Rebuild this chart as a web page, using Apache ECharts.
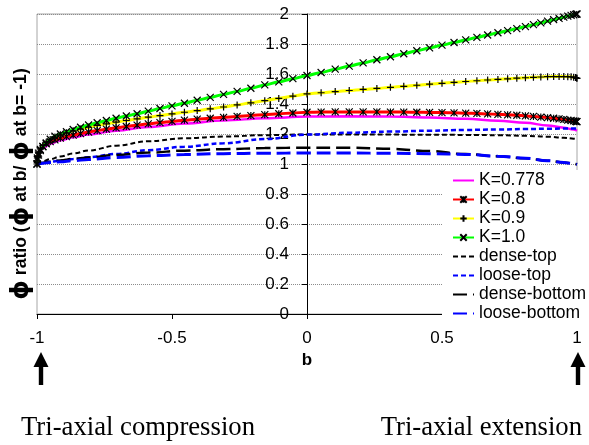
<!DOCTYPE html>
<html>
<head>
<meta charset="utf-8">
<script src="https://cdn.jsdelivr.net/npm/echarts/dist/echarts.min.js"></script>
<style>
  html, body { margin: 0; padding: 0; background: #fff; }
  #chart { width: 589px; height: 445px; }
</style>
</head>
<body>
<div id="chart"></div>
<script>
// b positions of the marked points (dense near both ends)
const bFine = [-1, -0.9986, -0.9945, -0.9877, -0.9781, -0.9659, -0.9511, -0.9336, -0.9135, -0.891,
  -0.866, -0.8387, -0.809, -0.7771, -0.7431, -0.7071, -0.6691, -0.6293, -0.5878, -0.5446,
  -0.5, -0.454, -0.4067, -0.3584, -0.309, -0.2588, -0.2079, -0.1564, -0.1045, -0.0523,
  0, 0.0523, 0.1045, 0.1564, 0.2079, 0.2588, 0.309, 0.3584, 0.4067, 0.454,
  0.5, 0.5446, 0.5878, 0.6293, 0.6691, 0.7071, 0.7431, 0.7771, 0.809, 0.8387,
  0.866, 0.891, 0.9135, 0.9336, 0.9511, 0.9659, 0.9781, 0.9877, 0.9945, 0.9986, 1];

// b positions for the unmarked curves
const bCoarse = [-1, -0.9945, -0.9781, -0.9511, -0.9135, -0.866, -0.809, -0.7071, -0.5878, -0.454,
  -0.309, -0.1564, 0, 0.1564, 0.309, 0.454, 0.5878, 0.7071, 0.809, 0.891, 0.9511, 0.9877, 1];

const k08 = [1.0, 1.04, 1.072, 1.098, 1.118, 1.135, 1.149, 1.161, 1.172, 1.183,
  1.193, 1.203, 1.213, 1.223, 1.232, 1.241, 1.25, 1.259, 1.268, 1.276,
  1.284, 1.292, 1.299, 1.305, 1.311, 1.317, 1.323, 1.329, 1.335, 1.34,
  1.345,
  1.346, 1.347, 1.347, 1.347, 1.347, 1.346, 1.346, 1.345, 1.344, 1.343,
  1.341, 1.339, 1.337, 1.334, 1.331, 1.328, 1.325, 1.321, 1.317, 1.313,
  1.309, 1.305, 1.301, 1.297, 1.293, 1.29, 1.287, 1.285, 1.283, 1.282];

const k09 = [1.0, 1.04, 1.072, 1.1, 1.124, 1.145, 1.164, 1.18, 1.195, 1.208,
  1.221, 1.233, 1.245, 1.257, 1.268, 1.279, 1.29, 1.301, 1.312, 1.323,
  1.334, 1.345, 1.356, 1.368, 1.38, 1.394, 1.408, 1.422, 1.437, 1.452,
  1.467,
  1.475, 1.483, 1.49, 1.497, 1.504, 1.511, 1.518, 1.525, 1.532, 1.538,
  1.544, 1.55, 1.555, 1.56, 1.564, 1.568, 1.572, 1.575, 1.578, 1.58,
  1.582, 1.583, 1.583, 1.583, 1.582, 1.581, 1.579, 1.576, 1.573, 1.571];

const k10 = [1.0, 1.03, 1.06, 1.09, 1.115, 1.14, 1.165, 1.185, 1.2, 1.215,
  1.23, 1.245, 1.26, 1.275, 1.29, 1.305, 1.32, 1.335, 1.352, 1.37,
  1.388, 1.405, 1.425, 1.444, 1.464, 1.484, 1.505, 1.527, 1.548, 1.569,
  1.59,
  1.61, 1.632, 1.653, 1.674, 1.695, 1.715, 1.735, 1.755, 1.774, 1.792,
  1.81, 1.827, 1.844, 1.86, 1.875, 1.889, 1.903, 1.916, 1.929, 1.941,
  1.952, 1.962, 1.971, 1.979, 1.986, 1.991, 1.995, 1.998, 1.999, 2.0];

const k0778 = [1.0, 1.065, 1.105, 1.135, 1.158, 1.178, 1.196, 1.222, 1.247, 1.27,
  1.29, 1.305, 1.316, 1.318, 1.316, 1.31, 1.301, 1.289, 1.275, 1.257, 1.242, 1.23, 1.222];
const denseTop = [1.0, 1.008, 1.018, 1.032, 1.05, 1.07, 1.09, 1.122, 1.152, 1.171,
  1.183, 1.192, 1.197, 1.197, 1.196, 1.195, 1.194, 1.192, 1.188, 1.182, 1.175, 1.169, 1.166];
const looseTop = [1.0, 1.003, 1.008, 1.015, 1.023, 1.033, 1.045, 1.067, 1.092, 1.115,
  1.138, 1.166, 1.196, 1.208, 1.216, 1.222, 1.227, 1.23, 1.233, 1.235, 1.236, 1.237, 1.237];
const denseBottom = [1.0, 1.003, 1.008, 1.015, 1.024, 1.034, 1.044, 1.06, 1.076, 1.089,
  1.099, 1.106, 1.109, 1.108, 1.101, 1.086, 1.066, 1.052, 1.038, 1.022, 1.01, 1.002, 0.998];
const looseBottom = [1.0, 1.002, 1.005, 1.01, 1.015, 1.022, 1.03, 1.043, 1.055, 1.063,
  1.069, 1.072, 1.073, 1.073, 1.072, 1.069, 1.064, 1.052, 1.038, 1.022, 1.01, 1.002, 0.998];

const xTicks = [-1, -0.5, 0, 0.5, 1];
const seriesNames = ['K=0.778', 'K=0.8', 'K=0.9', 'K=1.0', 'dense-top', 'loose-top', 'dense-bottom', 'loose-bottom'];

const SANS = 'Liberation Sans, Arial, sans-serif';
const SERIF = 'Liberation Serif, Times New Roman, serif';

const MARK_STAR = 'path://M0,0L10,10M10,0L0,10M5,0L5,10';
const MARK_PLUS = 'path://M5,0L5,10M0,5L10,5';
const MARK_X = 'path://M0,0L10,10M10,0L0,10';

function pairs(xs, ys) {
  return xs.map((x, i) => [x, ys[i]]);
}

function plainLine(name, xs, ys, color, width, dash) {
  return {
    name: name, type: 'line', data: pairs(xs, ys),
    smooth: 0.4, smoothMonotone: 'x', showSymbol: false, symbol: 'circle',
    lineStyle: { color: color, width: width, type: dash || 'solid' },
    itemStyle: { color: 'rgba(0,0,0,0)', borderWidth: 0 }
  };
}

function markedLine(name, ys, color, mark) {
  return {
    name: name, type: 'line', data: pairs(bFine, ys),
    smooth: 0.3, smoothMonotone: 'x',
    symbol: mark, symbolSize: 7, showSymbol: true,
    lineStyle: { color: color, width: 3 },
    itemStyle: { color: 'rgba(0,0,0,0)', borderColor: '#000', borderWidth: 1.2 }
  };
}

function arrow(x) {
  return {
    type: 'polygon',
    shape: { points: [[x, 352], [x + 7.5, 367], [x + 2.2, 367], [x + 2.2, 385],
      [x - 2.2, 385], [x - 2.2, 367], [x - 7.5, 367]] },
    style: { fill: '#000' }
  };
}

const chart = echarts.init(document.getElementById('chart'), null, { renderer: 'canvas' });

// the y axis sits at b = 0, in the middle of the plot
const yAxisShift = -270;

chart.setOption({
  animation: false,
  backgroundColor: '#fff',
  grid: { left: 37, right: 12, top: 14, bottom: 131, containLabel: false, outerBoundsMode: 'none',
    show: true, borderColor: '#a6a6a6', borderWidth: 1 },
  xAxis: {
    type: 'value', min: -1, max: 1, interval: 0.5,
    name: 'b', nameLocation: 'middle', nameGap: 35,
    nameTextStyle: { fontFamily: SANS, fontSize: 17, fontWeight: 'bold', color: '#000' },
    axisLine: { onZero: false, lineStyle: { color: '#000', width: 1 } },
    axisTick: { show: true, length: 5, lineStyle: { color: '#000' } },
    axisLabel: { fontFamily: SANS, fontSize: 17, color: '#000', margin: 16,
      formatter: v => xTicks.indexOf(v) >= 0 ? String(v) : '' },
    splitLine: { show: false }
  },
  yAxis: {
    type: 'value', min: 0, max: 2, interval: 0.2,
    offset: yAxisShift,
    name: '{p|ϕ} ratio ({p|ϕ} at b/ {p|ϕ} at b= -1)',
    nameLocation: 'middle', nameGap: 273,
    nameTextStyle: { fontFamily: SANS, fontSize: 17.6, fontWeight: 'bold', color: '#000',
      padding: [0, 40, 0, 0],
      rich: { p: { fontFamily: 'DejaVu Sans', fontSize: 24.7, fontWeight: 'bold', color: '#000' } } },
    axisLine: { onZero: false, lineStyle: { color: '#000', width: 1 } },
    axisTick: { show: true, length: 5, lineStyle: { color: '#000' } },
    axisLabel: { fontFamily: SANS, fontSize: 17, color: '#000', margin: 18,
      formatter: v => String(Math.round(v * 10) / 10) },
    splitLine: { show: true, lineStyle: { color: '#8c8c8c', width: 1, type: [1, 1] } }
  },
  legend: {
    orient: 'vertical', left: 442, top: 170,
    data: seriesNames,
    backgroundColor: '#fff', padding: [1, 8, 4, 10],
    itemWidth: 21, itemHeight: 8, itemGap: 0, itemTextGap: 3,
    textStyle: { fontFamily: SANS, fontSize: 17.5, color: '#000', lineHeight: 19 }
  },
  series: [
    plainLine(seriesNames[0], bCoarse, k0778, '#ff00ff', 2.5),
    markedLine(seriesNames[1], k08, '#ff0000', MARK_STAR),
    markedLine(seriesNames[2], k09, '#ffff00', MARK_PLUS),
    markedLine(seriesNames[3], k10, '#00ff00', MARK_X),
    plainLine(seriesNames[4], bCoarse, denseTop, '#000000', 2, [5, 3]),
    plainLine(seriesNames[5], bCoarse, looseTop, '#0000ff', 2.5, [5, 3]),
    plainLine(seriesNames[6], bCoarse, denseBottom, '#000000', 2.5, [14, 6]),
    plainLine(seriesNames[7], bCoarse, looseBottom, '#0000ff', 3, [14, 6])
  ],
  graphic: [
    arrow(41),
    arrow(578),
    { type: 'text', left: 21, top: 414,
      style: { text: 'Tri-axial compression', font: '26.7px ' + SERIF, fill: '#000' } },
    { type: 'text', right: 7, top: 414,
      style: { text: 'Tri-axial extension', font: '26.7px ' + SERIF, fill: '#000' } }
  ]
});

window.addEventListener('resize', function () {
  chart.resize();
});
</script>
</body>
</html>
